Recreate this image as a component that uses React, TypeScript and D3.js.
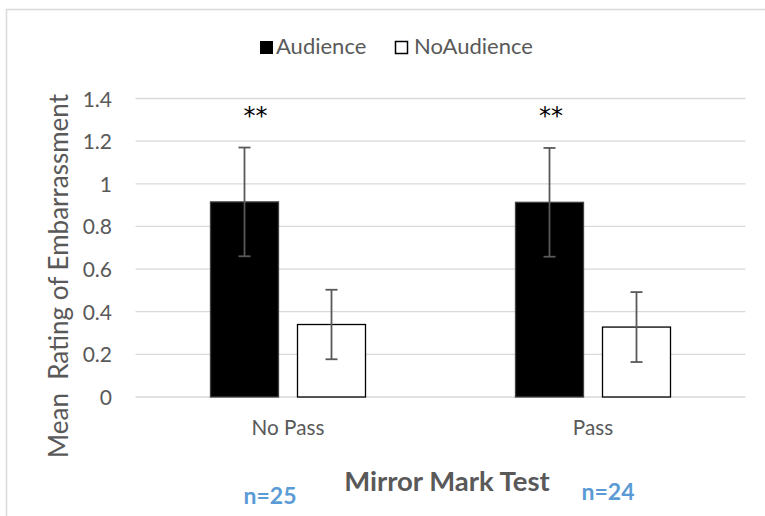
import React from "react";
import * as d3 from "d3";

const categories = ["No Pass", "Pass"];
const seriesNames = ["Audience", "NoAudience"];
const audienceMeans = [0.915, 0.913];
const noAudienceMeans = [0.34, 0.328];
const audienceErr = [0.255, 0.255];
const noAudienceErr = [0.163, 0.164];
const yTicks = [0, 0.2, 0.4, 0.6, 0.8, 1, 1.2, 1.4];
const sampleSizes = ["n=25", "n=24"];
const significance = ["**", "**"];

const W = 765;
const H = 516;
const FONT = "Lato, 'Open Sans', sans-serif";

export default function App() {
  const x = d3.scaleBand<string>().domain(categories).range([135.5, 745.5]);
  const y = d3.scaleLinear().domain([0, 1.4]).range([397, 98.5]);
  const barW = 68;
  const gap = 19;
  const groupW = barW * 2 + gap;

  const series = [
    { name: seriesNames[0], means: audienceMeans, err: audienceErr, fill: "#000", stroke: "#404040" },
    { name: seriesNames[1], means: noAudienceMeans, err: noAudienceErr, fill: "#fff", stroke: "#000" },
  ];

  return (
    <svg width={W} height={H} style={{ position: "absolute", left: 0, top: 0 }} fontFamily={FONT}>
      <rect x={0} y={0} width={W} height={H} fill="#fff" />
      <rect x={6.5} y={9.5} width={900} height={700} fill="none" stroke="#d9d9d9" strokeWidth={1.5} />

      {/* legend */}
      <rect x={260} y={41} width={13} height={13} fill="#000" />
      <text x={276} y={54} fontSize={22} fill="#595959">{seriesNames[0]}</text>
      <rect x={395.5} y={41.5} width={12} height={12} fill="#fff" stroke="#000" strokeWidth={1.5} />
      <text x={414} y={54} fontSize={22} fill="#595959">{seriesNames[1]}</text>

      {/* gridlines */}
      {yTicks.map((t) => (
        <line key={t} x1={135.5} x2={745.5} y1={y(t)} y2={y(t)} stroke="#d9d9d9" strokeWidth={1.3} />
      ))}
      {yTicks.map((t) => (
        <text key={"l" + t} x={112} y={y(t) + 8} fontSize={21} textAnchor="end" fill="#595959">
          {d3.format("~g")(t)}
        </text>
      ))}

      {/* bars */}
      {categories.map((c, ci) => {
        const x0 = (x(c) as number) + x.bandwidth() / 2 - groupW / 2;
        return (
          <g key={c}>
            {series.map((s, si) => {
              const bx = x0 + si * (barW + gap);
              const v = s.means[ci];
              return (
                <g key={s.name}>
                  <rect x={bx} y={y(v)} width={barW} height={y(0) - y(v)} fill={s.fill} stroke={s.stroke} strokeWidth={1.3} />
                </g>
              );
            })}
            {series.map((s, si) => {
              const cx = x0 + si * (barW + gap) + barW / 2;
              const v = s.means[ci];
              const e = s.err[ci];
              return (
                <g key={"e" + s.name} stroke="#595959" strokeWidth={1.8}>
                  <line x1={cx} x2={cx} y1={y(v + e)} y2={y(v - e)} />
                  <line x1={cx - 6} x2={cx + 6} y1={y(v + e)} y2={y(v + e)} />
                  <line x1={cx - 6} x2={cx + 6} y1={y(v - e)} y2={y(v - e)} />
                </g>
              );
            })}
            <text x={x0 + barW / 2 + (ci === 0 ? 11 : 1.5)} y={124} fontSize={24} textAnchor="middle" fill="#000" fontFamily="'DejaVu Sans', sans-serif">
              {significance[ci]}
            </text>
            <text x={(x(c) as number) + x.bandwidth() / 2} y={435} fontSize={20.7} textAnchor="middle" fill="#595959">
              {c}
            </text>
          </g>
        );
      })}

      {/* axis titles */}
      <text transform="translate(68,276) rotate(-90)" fontSize={26} textAnchor="middle" fill="#595959" style={{ whiteSpace: "pre" }}>
        {"Mean  Rating of Embarrassment"}
      </text>
      <text x={447} y={491} fontSize={27.5} fontWeight="bold" textAnchor="middle" fill="#595959">
        Mirror Mark Test
      </text>

      <text x={270} y={504} fontSize={23} fontWeight="bold" textAnchor="middle" fill="#5b9bd5">{sampleSizes[0]}</text>
      <text x={608} y={500} fontSize={23} fontWeight="bold" textAnchor="middle" fill="#5b9bd5">{sampleSizes[1]}</text>
    </svg>
  );
}
